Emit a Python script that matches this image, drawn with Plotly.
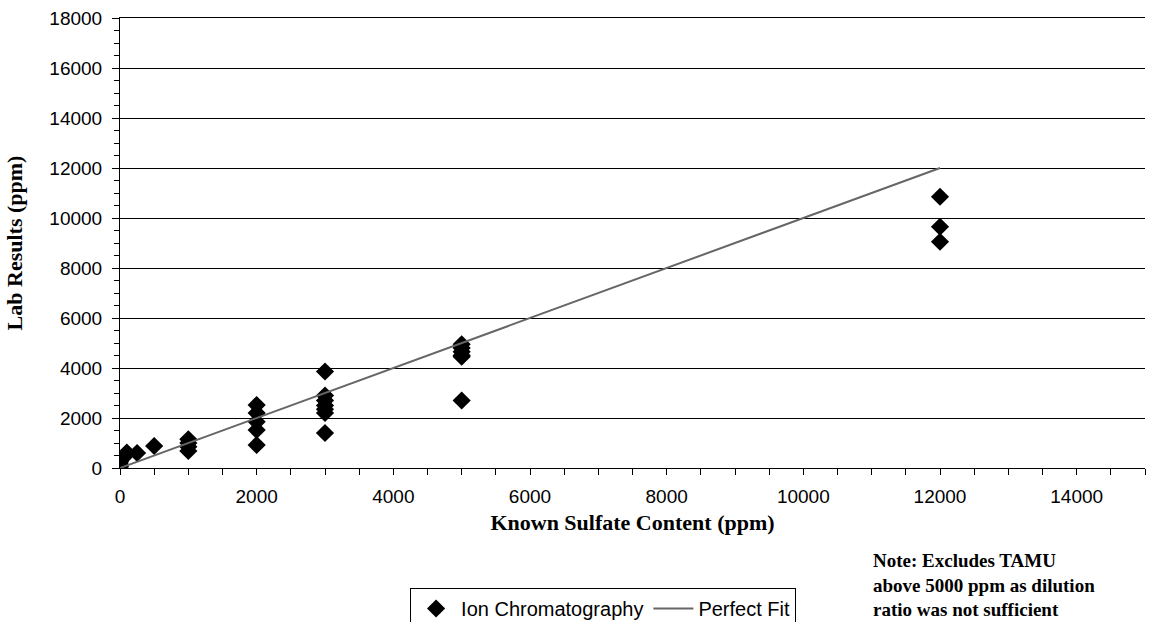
import plotly.graph_objects as go

known = [0, 0, 0, 0, 50, 100, 250, 500,
         1000, 1000, 1000, 1000,
         2000, 2000, 2000, 2000, 2000,
         3000, 3000, 3000, 3000, 3000, 3000, 3000,
         5000, 5000, 5000, 5000, 5000, 5000,
         12000, 12000, 12000]
lab = [50, 150, 250, 350, 420, 620, 600, 880,
       1150, 1000, 850, 680,
       2520, 2200, 1850, 1520, 920,
       3860, 2900, 2700, 2500, 2350, 2200, 1400,
       4950, 4800, 4650, 4500, 4450, 2700,
       10850, 9650, 9050]
fit_x = [0, 12000]
fit_y = [0, 12000]

fig = go.Figure()
fig.add_trace(go.Scatter(x=known, y=lab, mode="markers", name="Ion Chromatography",
                         marker=dict(symbol="diamond", size=14, color="black")))
fig.add_trace(go.Scatter(x=fit_x, y=fit_y, mode="lines", name="Perfect Fit",
                         line=dict(color="#666666", width=2)))

tickfont = dict(family="Liberation Sans, Arial", size=19, color="black")
titlefont = dict(family="Liberation Serif, Times New Roman", size=22, color="black")

H = 640  # taller than the 622 window so the legend box is clipped at the bottom like the reference
fig.update_layout(
    width=1150, height=H,
    margin=dict(l=120, r=5, t=18, b=H - 18 - 450),
    plot_bgcolor="white", paper_bgcolor="white",
    showlegend=True,
    legend=dict(orientation="h", x=0.283, y=(468 - 588) / 450, xanchor="left", yanchor="top",
                bordercolor="black", borderwidth=1,
                font=dict(family="Liberation Sans, Arial", size=20, color="black"),
                itemwidth=40, tracegroupgap=0),
    xaxis=dict(range=[0, 15000], dtick=2000, tick0=0, tickformat="d", showgrid=False, zeroline=False,
               showline=True, mirror=True, linecolor="black", linewidth=1, automargin=True,
               ticks="outside", ticklen=6, tickcolor="black", tickfont=tickfont, ticklabelstandoff=5,
               minor=dict(dtick=500, ticks="outside", ticklen=6, tickcolor="black", showgrid=False),
               title=dict(text="<b>Known Sulfate Content (ppm)</b>", font=titlefont, standoff=8)),
    yaxis=dict(range=[0, 18000], dtick=2000, tick0=0, tickformat="d", showgrid=True, gridcolor="black", gridwidth=1,
               zeroline=False, showline=True, linecolor="black", linewidth=1, automargin=True,
               ticks="outside", ticklen=7, tickcolor="black", tickfont=tickfont, ticklabelstandoff=6,
               minor=dict(dtick=500, ticks="outside", ticklen=5, tickcolor="black", showgrid=False),
               title=dict(text="<b>Lab Results (ppm)</b>", font=titlefont, standoff=20)),
)

fig.add_annotation(text="<b>Note: Excludes TAMU<br>above 5000 ppm as dilution<br>ratio was not sufficient</b>",
                   xref="paper", yref="paper", x=(871 - 120) / 1025, y=(468 - 548) / 450,
                   xanchor="left", yanchor="top", align="left", showarrow=False,
                   font=dict(family="Liberation Serif, Times New Roman", size=19, color="black"))

fig.write_html("out.html", config={"displayModeBar": False},
               post_script="document.body.style.margin='0';document.body.style.overflow='hidden';")
